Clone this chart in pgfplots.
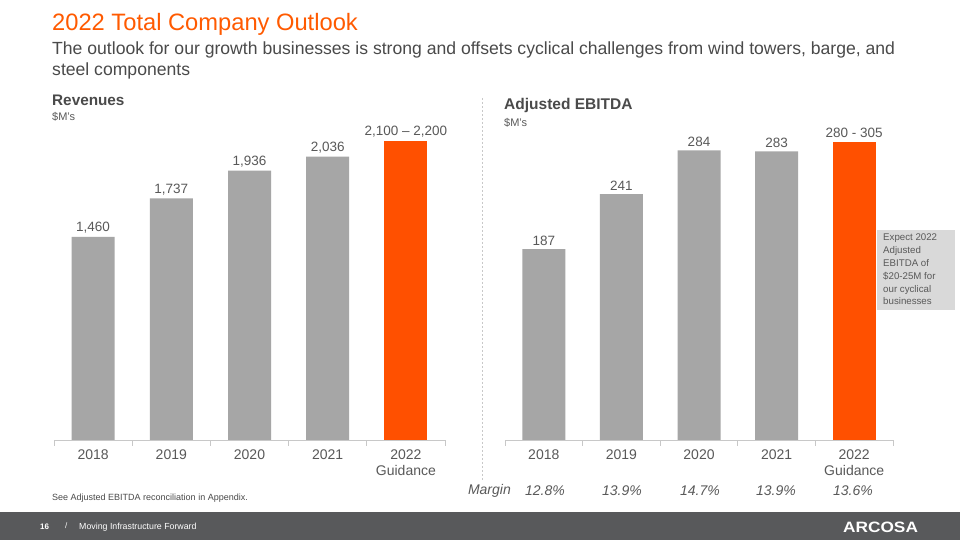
\documentclass[border=0pt]{standalone}
\usepackage{pgfplots}
\pgfplotsset{compat=1.18}
\usepackage{fontspec}
\setmainfont{Liberation Sans}
\usepackage{graphicx}
\definecolor{barg}{HTML}{A6A6A6}
\definecolor{orng}{HTML}{FF5000}
\definecolor{ttl}{HTML}{FF5A00}
\definecolor{txt}{HTML}{4A4A4A}
\definecolor{lbl}{HTML}{595959}
\definecolor{foot}{HTML}{58595B}
\definecolor{boxg}{HTML}{D9D9D9}
\definecolor{axl}{HTML}{C8C8C8}
\pgfplotsset{
 mybars/.style={
  scale only axis, anchor=south west,
  ybar, bar width=43pt, bar shift=0pt,
  ymin=0, xmin=-0.5, xmax=4.5,
  hide y axis, axis x line*=bottom,
  x axis line style={draw=axl, line width=0.8pt},
  xtick={0,...,4},
  xticklabels={2018,2019,2020,2021,{2022\\Guidance}},
  xticklabel style={align=center, font=\fontsize{14}{16}\selectfont, text=lbl, yshift=-6pt},
  major tick length=0pt,
  minor xtick={-0.5,0.5,...,4.5},
  minor tick length=6pt,
  tick align=outside,
  minor x tick style={draw=axl, line width=0.8pt},
  nodes near coords, point meta=explicit symbolic,
  every node near coord/.append style={font=\fontsize{13.5}{15}\selectfont, text=lbl},
  clip=false,
 }
}
\begin{document}
\begin{tikzpicture}[x=1pt,y=1pt]
\fill[white] (0,0) rectangle (960,540);
% title
\node[anchor=base west, inner sep=0pt, text=ttl, font=\fontsize{23.7}{28}\selectfont] at (52,509) {2022 Total Company Outlook};
\node[anchor=base west, inner sep=0pt, text=txt, font=\fontsize{17.6}{20}\selectfont] at (52,485) {The outlook for our growth businesses is strong and offsets cyclical challenges from wind towers, barge, and};
\node[anchor=base west, inner sep=0pt, text=txt, font=\fontsize{17.6}{20}\selectfont] at (52,464) {steel components};
% section headers
\node[anchor=base west, inner sep=0pt, text=txt, font=\fontsize{15.3}{18}\selectfont\bfseries] at (52,434) {Revenues};
\node[anchor=base west, inner sep=0pt, text=lbl, font=\fontsize{11}{12}\selectfont] at (52,419) {\$M's};
\node[anchor=base west, inner sep=0pt, text=txt, font=\fontsize{15.5}{18}\selectfont\bfseries] at (504,430) {Adjusted EBITDA};
\node[anchor=base west, inner sep=0pt, text=lbl, font=\fontsize{11}{12}\selectfont] at (504,413) {\$M's};
% divider
\draw[axl, dash pattern=on 2pt off 2pt, line width=0.6pt] (482,442) -- (482,60);
% left chart
\begin{axis}[mybars, at={(54pt,100pt)}, width=391pt, height=320pt, ymax=2300]
\addplot[fill=barg, draw=none] coordinates {(0,1460) [{1,460}] (1,1737) [{1,737}] (2,1936) [{1,936}] (3,2036) [{2,036}]};
\addplot[fill=orng, draw=none] coordinates {(4,2150) [{2,100 – 2,200}]};
\end{axis}
% right chart
\begin{axis}[mybars, at={(505pt,100pt)}, width=388pt, height=320pt, ymax=313.7]
\addplot[fill=barg, draw=none] coordinates {(0,187) [187] (1,241) [241] (2,284) [284] (3,283) [283]};
\addplot[fill=orng, draw=none] coordinates {(4,292.5) [{280 - 305}]};
\end{axis}
% annotation box
\fill[boxg] (877,230) rectangle (955,310);
\node[anchor=north west, inner sep=0pt, align=left, text=lbl, font=\fontsize{9.7}{12.8}\selectfont] at (883,306) {Expect 2022\\Adjusted\\EBITDA of\\\$20-25M for\\our cyclical\\businesses};
% margin row
\begin{scope}[every node/.style={font=\fontsize{14}{16}\selectfont\itshape, text=lbl, inner sep=0pt}]
\node[anchor=east] at (511,49) {Margin};
\node at (545,49) {12.8\%};
\node at (622,49) {13.9\%};
\node at (700,49) {14.7\%};
\node at (776,49) {13.9\%};
\node at (853,49) {13.6\%};
\end{scope}
% footnote
\node[anchor=west, inner sep=0pt, text=txt, font=\fontsize{9}{10}\selectfont] at (52,42) {See Adjusted EBITDA reconciliation in Appendix.};
% footer
\fill[foot] (0,0) rectangle (960,28);
\node[anchor=west, inner sep=0pt, text=white, font=\fontsize{8}{10}\selectfont\bfseries] at (40,13) {16};
\node[anchor=west, inner sep=0pt, text=white, font=\fontsize{8}{10}\selectfont] at (65,14) {/};
\node[anchor=west, inner sep=0pt, text=white, font=\fontsize{8.8}{10}\selectfont] at (79,13) {Moving Infrastructure Forward};
\node[anchor=west, inner sep=0pt, text=white, font=\fontsize{15}{16}\selectfont\bfseries] at (843,13) {\scalebox{1.15}[1]{ARCOSA}};
\end{tikzpicture}
\end{document}
